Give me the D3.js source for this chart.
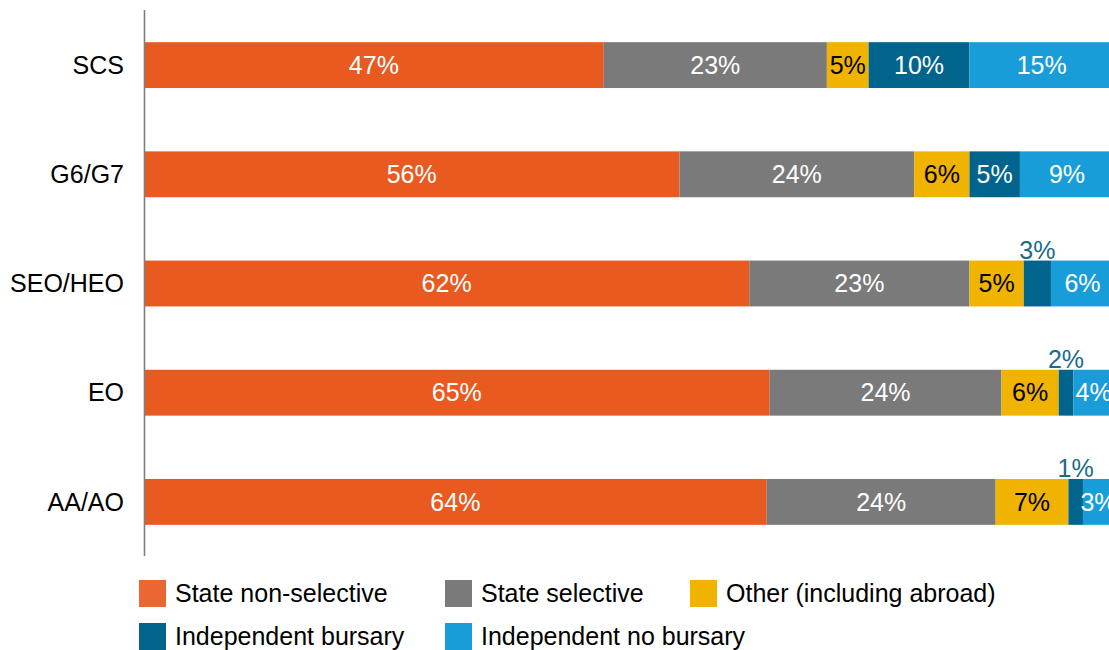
<!DOCTYPE html>
<html>
<head>
<meta charset="utf-8">
<script src="https://cdn.jsdelivr.net/npm/d3@7"></script>
<style>
  html, body { margin: 0; padding: 0; background: #fff; }
  svg { display: block; font-family: "Liberation Sans", Arial, sans-serif; }
</style>
</head>
<body>
<svg id="chart" width="1109" height="650"></svg>
<script>
const categories = ["SCS", "G6/G7", "SEO/HEO", "EO", "AA/AO"];
const seriesNames = ["State non-selective", "State selective", "Other (including abroad)", "Independent bursary", "Independent no bursary"];

const stateNonSelective = [47.4, 55.2, 62.4, 64.5, 64.2];
const stateSelective    = [23.0, 24.2, 22.7, 23.9, 23.6];
const otherAbroad       = [4.3, 5.7, 5.6, 5.9, 7.5];
const indepBursary      = [10.4, 5.2, 2.8, 1.5, 1.5];
const indepNoBursary    = [14.9, 9.7, 6.5, 4.2, 3.2];

const labelsNonSelective = ["47%", "56%", "62%", "65%", "64%"];
const labelsSelective    = ["23%", "24%", "23%", "24%", "24%"];
const labelsOther        = ["5%", "6%", "5%", "6%", "7%"];
const labelsBursary      = ["10%", "5%", "3%", "2%", "1%"];
const labelsNoBursary    = ["15%", "9%", "6%", "4%", "3%"];

const colors = ["#E95A20", "#7A7A7A", "#F0B400", "#00648C", "#189DD9"];
const legendColors = ["#EC6631", "#7A7A7A", "#F0B400", "#00648C", "#189DD9"];
const textColors = ["#fff", "#fff", "#000", "#fff", "#fff"];
const outsideColor = "#1B6A8C";

const seriesValues = [stateNonSelective, stateSelective, otherAbroad, indepBursary, indepNoBursary];
const seriesLabels = [labelsNonSelective, labelsSelective, labelsOther, labelsBursary, labelsNoBursary];

const rows = categories.map((c, i) => {
  const o = { cat: c };
  seriesNames.forEach((s, j) => { o[s] = seriesValues[j][i]; });
  return o;
});
const stacked = d3.stack().keys(seriesNames)(rows);

const svg = d3.select("#chart");
const x = d3.scaleLinear().domain([0, 100]).range([144, 1114]);
const y = d3.scaleBand().domain(categories).range([10.5, 556.5]).paddingInner(0.58).paddingOuter(0.29);

const font = 25;
const isOutside = v => v < 3;

stacked.forEach((layer, j) => {
  const g = svg.append("g");
  g.selectAll("rect").data(layer).enter().append("rect")
    .attr("x", d => x(d[0]))
    .attr("y", d => y(d.data.cat))
    .attr("width", d => x(d[1]) - x(d[0]))
    .attr("height", y.bandwidth())
    .attr("fill", colors[j]);
  g.selectAll("text").data(layer).enter().append("text")
    .attr("x", d => (x(d[0]) + x(d[1])) / 2)
    .attr("y", (d, i) => isOutside(seriesValues[j][i]) ? y(d.data.cat) - 2 : y(d.data.cat) + y.bandwidth() / 2)
    .attr("dy", (d, i) => isOutside(seriesValues[j][i]) ? "0" : "0.35em")
    .attr("text-anchor", "middle")
    .attr("font-size", font)
    .attr("fill", (d, i) => isOutside(seriesValues[j][i]) ? outsideColor : textColors[j])
    .text((d, i) => seriesLabels[j][i]);
});

// axis line
svg.append("line")
  .attr("x1", 144.5).attr("x2", 144.5)
  .attr("y1", 10).attr("y2", 556)
  .attr("stroke", "#7f7f7f").attr("stroke-width", 1.6);

// category labels
svg.append("g").selectAll("text").data(categories).enter().append("text")
  .attr("x", 124)
  .attr("y", d => y(d) + y.bandwidth() / 2)
  .attr("dy", "0.35em")
  .attr("text-anchor", "end")
  .attr("font-size", font)
  .attr("fill", "#000")
  .text(d => d);

// legend
const legendPos = [[139, 580], [445, 580], [690, 580], [139, 623], [445, 623]];
const lg = svg.append("g");
seriesNames.forEach((s, j) => {
  const [lx, ly] = legendPos[j];
  lg.append("rect").attr("x", lx).attr("y", ly).attr("width", 27).attr("height", 27).attr("fill", legendColors[j]);
  lg.append("text").attr("x", lx + 36).attr("y", ly + 13.5).attr("dy", "0.35em")
    .attr("font-size", font).attr("fill", "#000").text(s);
});
</script>
</body>
</html>
